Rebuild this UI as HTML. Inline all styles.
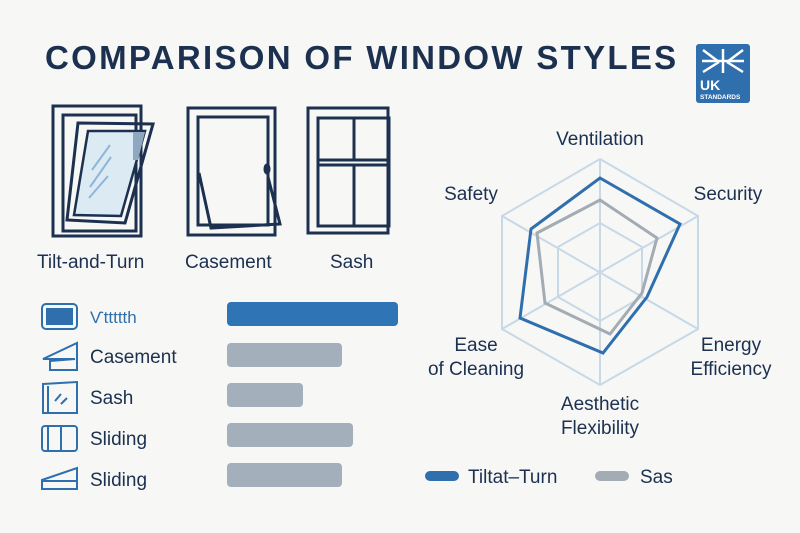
<!DOCTYPE html>
<html><head><meta charset="utf-8"><style>
body{margin:0;background:#f7f7f5;}
svg{display:block;font-family:"Liberation Sans",sans-serif;}
</style></head><body>
<svg width="800" height="533" viewBox="0 0 800 533" xmlns="http://www.w3.org/2000/svg">
<rect width="800" height="533" fill="#f7f7f5"/>
<text x="45" y="69" font-size="33" font-weight="bold" fill="#1c3050" letter-spacing="2.3">COMPARISON OF WINDOW STYLES</text>
<!-- badge -->
<rect x="696" y="44" width="54" height="59" rx="3" fill="#2f6fad"/>
<g stroke="#fff" stroke-width="2.5" fill="none">
<line x1="703" y1="50" x2="719" y2="62"/><line x1="743" y1="50" x2="727" y2="62"/>
<line x1="703" y1="72" x2="719" y2="62"/><line x1="743" y1="72" x2="727" y2="62"/>
<line x1="723" y1="49" x2="723" y2="73"/><line x1="702" y1="61" x2="744" y2="61"/>
</g>
<text x="700" y="90" font-size="14" font-weight="bold" fill="#fff">UK</text>
<text x="700" y="99" font-size="6.5" font-weight="bold" fill="#fff">STANDARDS</text>
<!-- tilt and turn -->
<g fill="none" stroke="#1c3050" stroke-width="3">
<rect x="53" y="106" width="88" height="130"/>
<rect x="63" y="115" width="73" height="116"/>
<polygon points="78,123 153,124 125,223 67,220"/>
<polygon points="88,131 145,131 121,216 74,215" fill="#dceaf3" stroke-width="2.5"/>
</g>
<polygon points="133,132 145,132 138,160 133,160" fill="#8fa8c0"/>
<g stroke="#8fb6d8" stroke-width="2"><line x1="92" y1="170" x2="110" y2="145"/><line x1="90" y1="187" x2="111" y2="157"/><line x1="89" y1="198" x2="108" y2="176"/></g>
<!-- casement -->
<g fill="none" stroke="#1c3050" stroke-width="3">
<rect x="188" y="108" width="87" height="127"/>
<rect x="198" y="117" width="70" height="108"/>
<polyline points="199,173 211,228 280,224 268,177"/>
<ellipse cx="267" cy="169" rx="2" ry="4"/>
</g>
<!-- sash -->
<g fill="none" stroke="#1c3050" stroke-width="3">
<rect x="308" y="108" width="80" height="125"/>
<rect x="318" y="118" width="71" height="108"/>
<line x1="318" y1="160" x2="389" y2="160"/><line x1="318" y1="165" x2="389" y2="165"/>
<line x1="354" y1="118" x2="354" y2="160"/><line x1="354" y1="165" x2="354" y2="226"/>
</g>
<g font-size="19" fill="#1c3050">
<text x="37" y="268">Tilt-and-Turn</text>
<text x="185" y="268">Casement</text>
<text x="330" y="268">Sash</text>
</g>
<!-- list -->
<g fill="none" stroke="#2f6fad" stroke-width="2">
<rect x="42" y="304" width="35" height="25" rx="4"/>
<polygon points="43,359 77,343 77,370 50,370 50,361 75,359"/>
<polygon points="43,384 77,382 77,413 43,413"/><line x1="48" y1="386" x2="48" y2="412"/>
<line x1="55" y1="401" x2="61" y2="394"/><line x1="61" y1="404" x2="67" y2="398"/>
<rect x="42" y="426" width="35" height="25" rx="3"/><line x1="48" y1="427" x2="48" y2="450"/><line x1="61" y1="427" x2="61" y2="450"/>
<polygon points="42,480 77,468 77,489 42,489"/><line x1="42" y1="481" x2="77" y2="481"/>
</g>
<rect x="46" y="308" width="27" height="17" fill="#2f6fad"/>
<text x="90" y="323" font-size="17" fill="#2f6fad">Ѵttttth</text>
<g font-size="19" fill="#1c3050">
<text x="90" y="363">Casement</text>
<text x="90" y="404">Sash</text>
<text x="90" y="445">Sliding</text>
<text x="90" y="486">Sliding</text>
</g>
<rect x="227" y="302" width="171" height="24" rx="4" fill="#2f74b5"/>
<g fill="#a3afba">
<rect x="227" y="343" width="115" height="24" rx="4"/>
<rect x="227" y="383" width="76" height="24" rx="4"/>
<rect x="227" y="423" width="126" height="24" rx="4"/>
<rect x="227" y="463" width="115" height="24" rx="4"/>
</g>
<!-- radar -->
<g fill="none" stroke="#c7d8e6" stroke-width="2">
<polygon points="600,159 698,216 698,329 600,385 502,329 502,216"/>
<polygon points="600,223 642,247 642,297 600,321 558,297 558,247"/>
<line x1="600" y1="159" x2="600" y2="385"/><line x1="502" y1="216" x2="698" y2="329"/><line x1="698" y1="216" x2="502" y2="329"/>
</g>
<polygon points="600,200 657,238 642,293 610,334 545,303 537,233" fill="none" stroke="#a3abb4" stroke-width="3"/>
<polygon points="600,178 680,224 647,297 603,353 520,318 531,229" fill="none" stroke="#2f6fad" stroke-width="3"/>
<g font-size="19" fill="#1c3050" text-anchor="middle">
<text x="600" y="145">Ventilation</text>
<text x="471" y="200">Safety</text>
<text x="728" y="200">Security</text>
<text x="476" y="351">Ease</text><text x="476" y="375">of Cleaning</text>
<text x="731" y="351">Energy</text><text x="731" y="375">Efficiency</text>
<text x="600" y="410">Aesthetic</text><text x="600" y="434">Flexibility</text>
</g>
<rect x="425" y="471" width="34" height="10" rx="5" fill="#2f6fad"/>
<rect x="595" y="471" width="34" height="10" rx="5" fill="#a3abb4"/>
<g font-size="19" fill="#1c3050"><text x="468" y="483">Tiltat–Turn</text><text x="640" y="483">Sas</text></g>
</svg>
</body></html>
